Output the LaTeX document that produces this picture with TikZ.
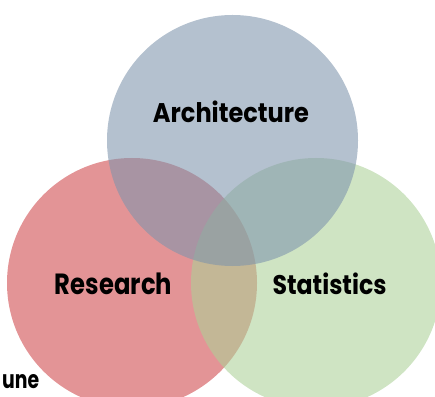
\documentclass[tikz,border=0pt]{standalone}
\usepackage{fontspec}
\setmainfont{Poppins}
\usepackage{graphicx}
\definecolor{topc}{RGB}{126,148,172}
\definecolor{redc}{RGB}{207,71,74}
\definecolor{grnc}{RGB}{172,208,152}
\tikzset{
  venn/.style={fill opacity=0.58},
  lbl/.style={anchor=base, inner sep=0pt, text=black}
}
\begin{document}
\begin{tikzpicture}[x=1pt,y=1pt]
\useasboundingbox (0,0) rectangle (435,396);
\clip (0,0) rectangle (435,396);
\fill[venn, redc] (132,113) circle[radius=125pt];
\fill[venn, grnc] (316,113) circle[radius=125pt];
\fill[venn, topc] (232.5,255.5) circle[radius=125.5pt];
\node[lbl] (arch) at (231,273) {\resizebox{156pt}{21.6pt}{\bfseries Architecture}};
\node[lbl] (res) at (113.5,102) {\resizebox{117pt}{21.6pt}{\bfseries Research}};
\node[lbl] (stat) at (329.5,102) {\resizebox{114pt}{21.6pt}{\bfseries Statistics}};
\node[lbl, anchor=base west] (une) at (2,8) {\resizebox{37pt}{14pt}{\bfseries une}};
\end{tikzpicture}
\end{document}
